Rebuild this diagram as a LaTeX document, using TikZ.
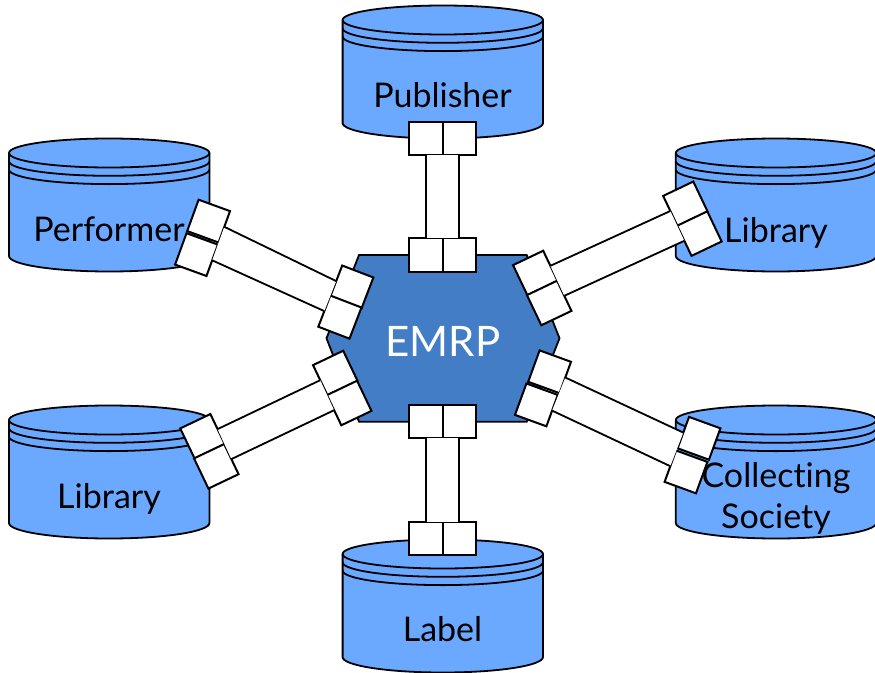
\documentclass[tikz,border=0pt]{standalone}
\usepackage{fontspec}
\setmainfont{Lato}[Ligatures=NoCommon]
\definecolor{cylblue}{HTML}{6AA9FF}
\definecolor{hexblue}{HTML}{427DC6}
\tikzset{
  cylbody/.style={draw=black,line width=1.8pt,fill=cylblue},
  cylline/.style={draw=black,line width=1.8pt},
  port/.style={draw=black,line width=2pt,fill=white,minimum size=33.4pt,inner sep=0pt,outer sep=0pt},
  link/.style={draw=black,line width=1.8pt},
  band/.style={fill=white},
  cyltext/.style={anchor=base,font=\fontsize{34}{34}\selectfont,text=black,inner sep=0pt},
  hexshape/.style={draw=black,line width=1.8pt,fill=hexblue}
}
\newcommand{\cylat}[2]{%
  \draw[cylbody] ({#1},{#2+15}) arc[start angle=180,end angle=0,x radius=100.2pt,y radius=14.5pt]
    -- ({#1+200.4},{#2+118}) arc[start angle=0,end angle=-180,x radius=100.2pt,y radius=15.5pt] -- cycle;
  \draw[cylline] ({#1},{#2+15}) arc[start angle=180,end angle=360,x radius=100.2pt,y radius=14.5pt];
  \draw[cylline] ({#1},{#2+23.3}) arc[start angle=180,end angle=360,x radius=100.2pt,y radius=14.5pt];
  \draw[cylline] ({#1},{#2+31.6}) arc[start angle=180,end angle=360,x radius=100.2pt,y radius=14.5pt];
}
% #1,#2 first pair of nodes; #3,#4 second pair; #5 anchor on first; #6 anchor on second
\newcommand{\linkpair}[6]{%
  \fill[band] (#1.#5) -- (#3.#6) -- (#4.#6) -- (#2.#5) -- cycle;
  \draw[link] (#1.#5) -- (#3.#6);
  \draw[link] (#2.#5) -- (#4.#6);
}
\begin{document}
\begin{tikzpicture}[x=1pt,y=-1pt]
\useasboundingbox (0,0) rectangle (875,672);
\fill[white] (0,0) rectangle (875,672);
\clip (0,0) rectangle (875,672);

% cylinders
\cylat{342.6}{5}
\cylat{9}{138}
\cylat{675.8}{138}
\cylat{9}{405}
\cylat{675.8}{405}
\cylat{342.6}{539}

% hub
\draw[hexshape] (359,255) -- (526.7,255) -- (559.5,338.3) -- (526.7,421.7) -- (359,421.7) -- (326.5,338.3) -- cycle;

% labels
\node[cyltext] (publisher) at (442.5,107.5) {Publisher};
\node[cyltext] (performer) at (109,241.5) {Performer};
\node[cyltext] (libraryR) at (776,242) {Library};
\node[cyltext] (libraryL) at (109,508) {Library};
\node[cyltext] (collecting) at (776,487.5) {Collecting};
\node[cyltext] (society) at (776,528) {Society};
\node[cyltext] (label) at (442.5,641) {Label};
\node[anchor=base,font=\fontsize{42}{42}\selectfont,text=white,inner sep=0pt] (emrp) at (443,356) {EMRP};

% ports: Publisher
\node[port] (pubA) at (425.8,138.4) {};
\node[port] (pubB) at (459.2,138.4) {};
\node[port] (pubC) at (425.8,255) {};
\node[port] (pubD) at (459.2,255) {};
% ports: Label
\node[port] (labA) at (425.8,421.7) {};
\node[port] (labB) at (459.2,421.7) {};
\node[port] (labC) at (425.8,538.4) {};
\node[port] (labD) at (459.2,538.4) {};
% ports: Performer
\node[port,rotate=-20] (perA) at (208.6,221.1) {};
\node[port,rotate=-20] (perB) at (196.5,254.6) {};
\node[port,rotate=-21] (perC) at (351.8,287.1) {};
\node[port,rotate=-21] (perD) at (339.9,317.1) {};
% ports: Collecting Society
\node[port,rotate=-20] (colA) at (549.6,371.8) {};
\node[port,rotate=-20] (colB) at (536.4,404.9) {};
\node[port,rotate=-20] (colC) at (699,438.3) {};
\node[port,rotate=-20] (colD) at (686,471.9) {};
% ports: Library right
\node[port,rotate=25.5] (libA) at (685.4,203.8) {};
\node[port,rotate=25.5] (libB) at (699.4,233.6) {};
\node[port,rotate=25.5] (libC) at (535.3,273) {};
\node[port,rotate=25.5] (libD) at (549.2,303) {};
% ports: Library left
\node[port,rotate=25.5] (lilA) at (335.3,373) {};
\node[port,rotate=25.5] (lilB) at (349.2,403) {};
\node[port,rotate=25.5] (lilC) at (202.5,436.3) {};
\node[port,rotate=25.5] (lilD) at (216.3,466.3) {};

% connectors
\linkpair{pubA}{pubB}{pubC}{pubD}{south}{north}
\linkpair{labA}{labB}{labC}{labD}{south}{north}
\linkpair{perA}{perB}{perC}{perD}{east}{west}
\linkpair{colA}{colB}{colC}{colD}{east}{west}
\linkpair{libC}{libD}{libA}{libB}{east}{west}
\linkpair{lilC}{lilD}{lilA}{lilB}{east}{west}
\end{tikzpicture}
\end{document}
